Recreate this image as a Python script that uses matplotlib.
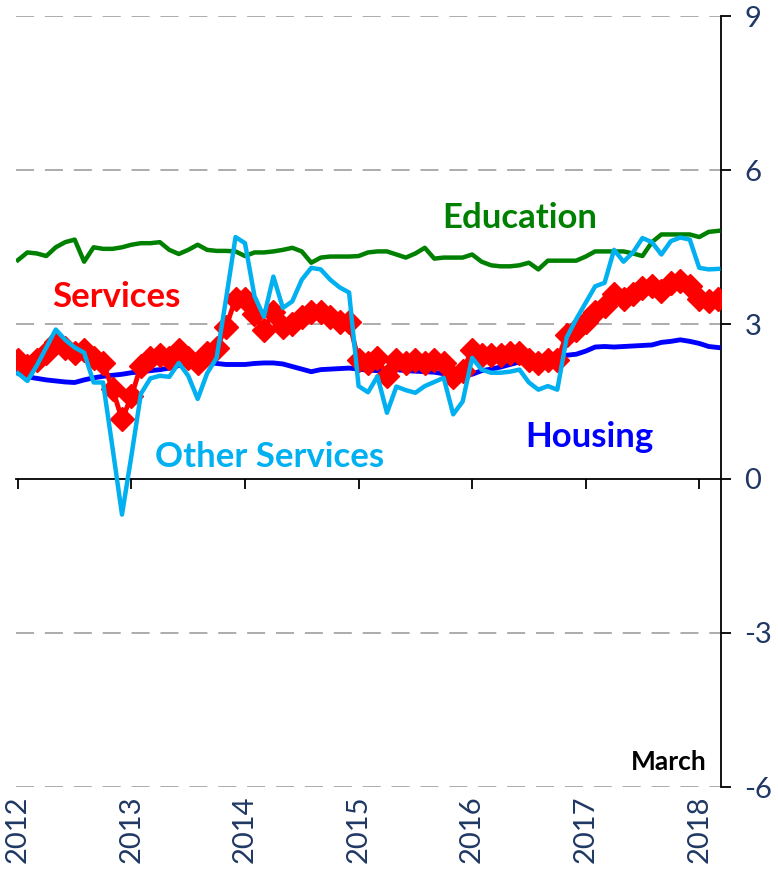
import matplotlib
matplotlib.use('Agg')
import matplotlib.pyplot as plt
import numpy as np

plt.rcParams['font.family'] = ['Lato', 'DejaVu Sans']
plt.rcParams['axes.unicode_minus'] = False

# monthly data, Jan 2012 - Mar 2018
years = ['2012', '2013', '2014', '2015', '2016', '2017', '2018']

education = [4.25, 4.40, 4.38, 4.33, 4.50, 4.60, 4.65, 4.22, 4.50, 4.47, 4.47, 4.50,
             4.55, 4.58, 4.58, 4.60, 4.45, 4.37, 4.45, 4.55, 4.45, 4.43, 4.43, 4.42,
             4.33, 4.40, 4.40, 4.42, 4.45, 4.49, 4.42, 4.20, 4.30, 4.32, 4.32, 4.32,
             4.33, 4.40, 4.42, 4.42, 4.36, 4.30, 4.38, 4.49, 4.28, 4.30, 4.30, 4.30,
             4.36, 4.22, 4.15, 4.13, 4.13, 4.15, 4.20, 4.07, 4.24, 4.24, 4.24, 4.24,
             4.32, 4.42, 4.42, 4.42, 4.42, 4.38, 4.33, 4.60, 4.75, 4.75, 4.75, 4.75,
             4.70, 4.80, 4.82]

services = [2.30, 2.20, 2.30, 2.45, 2.65, 2.55, 2.45, 2.50, 2.35, 2.25, 1.75, 1.15,
            1.60, 2.20, 2.35, 2.40, 2.35, 2.50, 2.35, 2.25, 2.45, 2.55, 2.95, 3.50,
            3.50, 3.20, 2.90, 3.25, 2.95, 3.00, 3.15, 3.25, 3.25, 3.15, 3.05, 3.05,
            2.30, 2.25, 2.35, 2.00, 2.30, 2.25, 2.30, 2.25, 2.30, 2.25, 1.98, 2.10,
            2.50, 2.40, 2.40, 2.40, 2.45, 2.45, 2.30, 2.25, 2.30, 2.30, 2.80, 2.90,
            3.05, 3.25, 3.35, 3.60, 3.50, 3.60, 3.70, 3.75, 3.65, 3.80, 3.85, 3.75,
            3.50, 3.45, 3.50]

other_services = [2.05, 1.90, 2.20, 2.55, 2.90, 2.70, 2.55, 2.45, 1.87, 1.87, 0.60, -0.70,
                  0.45, 1.65, 1.95, 2.00, 1.98, 2.25, 2.00, 1.55, 2.05, 2.35, 3.50, 4.70,
                  4.58, 3.55, 3.15, 3.93, 3.32, 3.45, 3.87, 4.10, 4.07, 3.87, 3.72, 3.62,
                  1.80, 1.68, 1.99, 1.28, 1.79, 1.72, 1.67, 1.80, 1.88, 1.96, 1.25, 1.50,
                  2.35, 2.12, 2.06, 2.06, 2.08, 2.12, 1.87, 1.73, 1.80, 1.73, 2.75, 3.10,
                  3.42, 3.74, 3.81, 4.45, 4.22, 4.40, 4.68, 4.60, 4.36, 4.62, 4.69, 4.65,
                  4.10, 4.07, 4.08]

housing = [2.05, 1.98, 1.95, 1.92, 1.90, 1.88, 1.87, 1.92, 1.96, 1.99, 2.01, 2.03,
           2.06, 2.08, 2.10, 2.12, 2.15, 2.20, 2.25, 2.27, 2.26, 2.24, 2.22, 2.22,
           2.22, 2.24, 2.25, 2.25, 2.23, 2.18, 2.13, 2.08, 2.12, 2.13, 2.14, 2.15,
           2.13, 2.11, 2.10, 2.13, 2.12, 2.10, 2.09, 2.08, 2.07, 2.04, 2.02, 2.03,
           2.03, 2.10, 2.13, 2.17, 2.22, 2.27, 2.30, 2.30, 2.32, 2.36, 2.40, 2.42,
           2.48, 2.56, 2.57, 2.56, 2.57, 2.58, 2.59, 2.60, 2.65, 2.67, 2.70, 2.67,
           2.63, 2.57, 2.55]

x = np.arange(len(education))
year_pos = np.arange(0, len(education), 12)

navy = '#1F3864'
fig = plt.figure(figsize=(7.78, 8.72), dpi=100)
ax = fig.add_axes([16/778, 1 - 787/872, 705/778, 771/872])

ax.set_ylim(-6, 9)
ax.set_xlim(-0.2, 74.3)

# gridlines (not at zero, the axis sits there)
for g in [-6, -3, 3, 6, 9]:
    ax.axhline(g, color='#A6A6A6', lw=1.3, dashes=(10, 6), zorder=0)

ax.plot(x, education, color='#008000', lw=3.2, zorder=3)
ax.plot(x, housing, color='#0000FF', lw=3.5, zorder=3)
ax.plot(x, services, color='#FF0000', lw=3.5, marker='D', ms=12, mec='#FF0000', zorder=4)
ax.plot(x, other_services, color='#00B0F0', lw=3.2, zorder=5)

# right y axis
for s in ['left', 'top', 'bottom']:
    ax.spines[s].set_visible(False)
ax.spines['right'].set_linewidth(1.3)
ax.yaxis.tick_right()
ax.set_yticks([-6, -3, 0, 3, 6, 9])
ax.tick_params(axis='y', direction='out', length=7, width=1.3, pad=10,
               labelsize=21, labelcolor=navy)

# year labels at the bottom
ax.set_xticks(year_pos)
ax.set_xticklabels(years, rotation=90, va='top')
ax.tick_params(axis='x', length=0, pad=6, labelsize=21, labelcolor=navy)

# x axis line through zero
zero_ax = ax.secondary_xaxis(6 / 15)
zero_ax.set_xticks(year_pos)
zero_ax.set_xticklabels([])
zero_ax.spines['bottom'].set_linewidth(1.3)
zero_ax.tick_params(axis='x', direction='out', length=7, width=1.3)

ax.text(0.715, 0.738, 'Education', transform=ax.transAxes, color='#008000',
        fontsize=25, fontweight='bold', ha='center', va='center')
ax.text(0.143, 0.636, 'Services', transform=ax.transAxes, color='#FF0000',
        fontsize=25, fontweight='bold', ha='center', va='center')
ax.text(0.360, 0.428, 'Other Services', transform=ax.transAxes, color='#00B0F0',
        fontsize=25, fontweight='bold', ha='center', va='center')
ax.text(0.814, 0.454, 'Housing', transform=ax.transAxes, color='#0000FF',
        fontsize=25, fontweight='bold', ha='center', va='center')
ax.text(0.980, 0.032, 'March', transform=ax.transAxes, color='black',
        fontsize=19, fontweight='bold', ha='right', va='center')

fig.savefig('out.png', dpi=100)
